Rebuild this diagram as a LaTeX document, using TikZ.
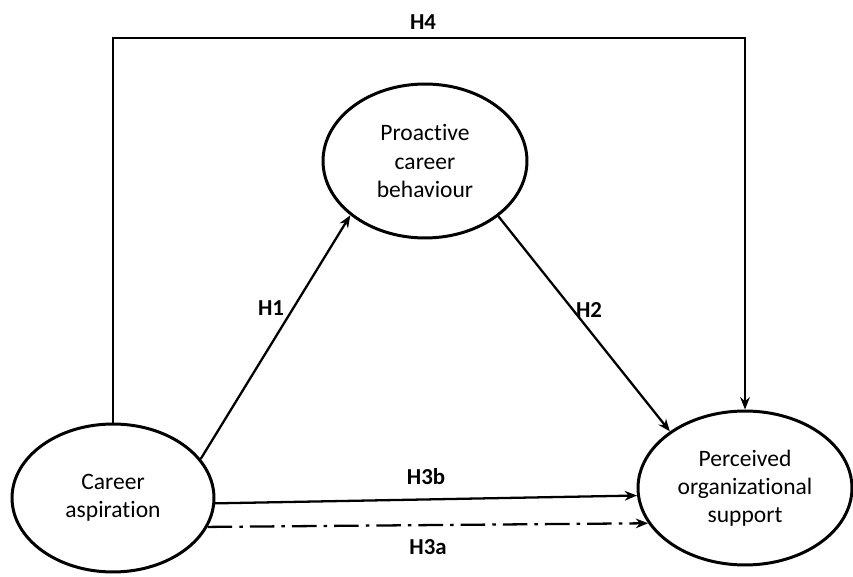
\documentclass[tikz,border=0pt]{standalone}
\usepackage{fontspec}
\setmainfont{Carlito}[Ligatures=NoCommon]
\usetikzlibrary{shapes.geometric,arrows.meta}
\tikzset{
  var/.style={ellipse,draw,line width=1.7pt,inner sep=0pt,align=center,
    font=\fontsize{13.4}{16}\selectfont},
  hyp/.style={font=\bfseries\fontsize{13}{15}\selectfont},
  link/.style={line width=1.3pt,-{Stealth[length=7pt,width=5.5pt]}},
}
\begin{document}
\begin{tikzpicture}[x=0.02cm,y=-0.02cm]
	\useasboundingbox (0,0) rectangle (853,577);
	%variables
	\node[var,minimum width=4.04cm,minimum height=2.96cm] (career) at (113,498) {Career\\aspiration};
	\node[var,minimum width=4.08cm,minimum height=3.08cm] (proactive) at (425,161) {Proactive\\career\\behaviour};
	\node[var,minimum width=4.28cm,minimum height=3.08cm] (perceived) at (745,488) {Perceived\\organizational\\support};
	%H4
	\coordinate (top) at (423,38);
	\draw[link,line width=1.5pt] (career.north) |- (top) -| (perceived.north);
	\node[hyp] (h4) at (423,22) {H4};
	%H1, H2
	\draw[link] (career.24) -- (proactive.216);
	\node[hyp] (h1) at (271,308) {H1};
	\draw[link] (proactive.-37) -- (perceived.143);
	\node[hyp] (h2) at (589,310) {H2};
	%H3b, H3a
	\draw[link] (career.-3) -- (perceived.184);
	\node[hyp] (h3b) at (426,477) {H3b};
	\draw[link,dash pattern=on 14pt off 4pt on 2pt off 4pt] (career.-17) -- (perceived.200);
	\node[hyp] (h3a) at (428,547) {H3a};
\end{tikzpicture}
\end{document}
